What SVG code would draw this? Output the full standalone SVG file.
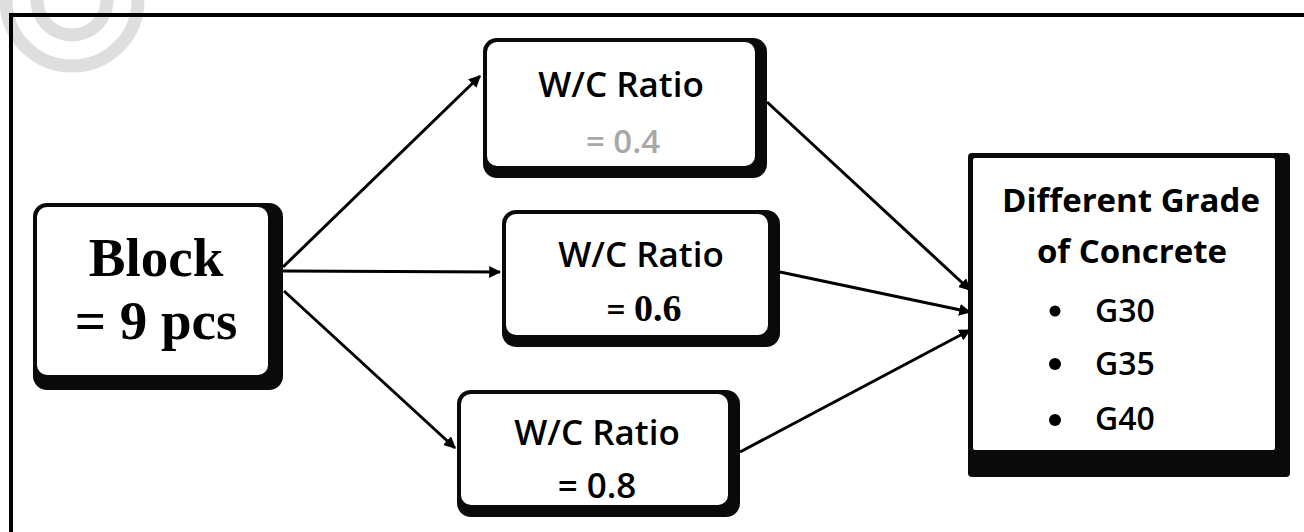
<svg xmlns="http://www.w3.org/2000/svg" width="1304" height="532" viewBox="0 0 1304 532">
<style>
.frame{fill:none;stroke:#000;stroke-width:4}
.wm{fill:none;stroke:#dedede}
.shadow{fill:#0a0a0a}
.face{fill:#fff}
.conn{stroke:#000;stroke-width:3;fill:none;marker-end:url(#ah)}
.sans{font-family:"Open Sans","Noto Sans","DejaVu Sans",sans-serif;fill:#000}
.serif{font-family:"Liberation Serif","Times New Roman",serif;font-weight:700;fill:#000}
.ratio{font-size:35px;font-weight:600;text-anchor:middle}
.grade{font-size:33px;font-weight:700;text-anchor:middle}
.item{font-size:32px;font-weight:600}
</style>
<defs>
<marker id="ah" viewBox="0 0 10 10" refX="9" refY="5" markerWidth="4" markerHeight="4" orient="auto" markerUnits="strokeWidth">
<path d="M0,0 L10,5 L0,10 z" fill="#000"/>
</marker>
</defs>
<rect width="1304" height="532" fill="#fff"/>
<g id="watermark">
<circle class="wm" cx="72" cy="0" r="66" stroke-width="13"/>
<circle class="wm" cx="72" cy="0" r="35" stroke-width="13"/>
</g>
<g id="frame">
<path class="frame" d="M11,532 V15 H1304"/>
</g>
<g id="connectors">
<line class="conn" x1="283" y1="267" x2="480" y2="76"/>
<line class="conn" x1="283" y1="271" x2="500" y2="272"/>
<line class="conn" x1="284" y1="291" x2="455" y2="448"/>
<line class="conn" x1="767" y1="102" x2="970" y2="290"/>
<line class="conn" x1="780" y1="272" x2="970" y2="312"/>
<line class="conn" x1="740" y1="452" x2="970" y2="330"/>
</g>
<g id="block">
<rect class="shadow" x="33" y="203" width="250" height="187" rx="14"/>
<rect class="face" x="37" y="207" width="231" height="168" rx="10"/>
<text class="serif" x="156" y="276" font-size="55" text-anchor="middle">Block</text>
<text class="serif" x="156" y="339" font-size="55" text-anchor="middle">= 9 pcs</text>
</g>
<g id="ratio04">
<rect class="shadow" x="483" y="38" width="284" height="140" rx="14"/>
<rect class="face" x="487" y="42" width="268" height="124" rx="10"/>
<text class="sans ratio" x="621" y="97">W/C Ratio</text>
<text class="sans" x="623" y="153" font-size="33" font-weight="600" text-anchor="middle" style="fill:#a8a8a8">= 0.4</text>
</g>
<g id="ratio06">
<rect class="shadow" x="502" y="210" width="278" height="137" rx="14"/>
<rect class="face" x="506" y="214" width="262" height="121" rx="10"/>
<text class="sans ratio" x="641" y="267">W/C Ratio</text>
<text x="644" y="321" text-anchor="middle"><tspan class="sans" font-size="33" font-weight="600">= </tspan><tspan class="serif" font-size="38">0.6</tspan></text>
</g>
<g id="ratio08">
<rect class="shadow" x="457" y="390" width="283" height="127" rx="14"/>
<rect class="face" x="461" y="394" width="267" height="111" rx="10"/>
<text class="sans ratio" x="597" y="445">W/C Ratio</text>
<text class="sans" x="597" y="498" font-size="35" font-weight="600" text-anchor="middle">= 0.8</text>
</g>
<g id="grades">
<rect class="shadow" x="968" y="153" width="322" height="324" rx="4"/>
<rect class="face" x="973" y="158" width="302" height="292" rx="2"/>
<text class="sans grade" x="1131" y="212">Different Grade</text>
<text class="sans grade" x="1132" y="263">of Concrete</text>
<circle cx="1055" cy="311" r="5.5"/>
<circle cx="1055" cy="364" r="6"/>
<circle cx="1055" cy="420" r="6"/>
<text class="sans item" x="1095" y="322">G30</text>
<text class="sans item" x="1095" y="375">G35</text>
<text class="sans item" x="1095" y="430">G40</text>
</g>
</svg>
